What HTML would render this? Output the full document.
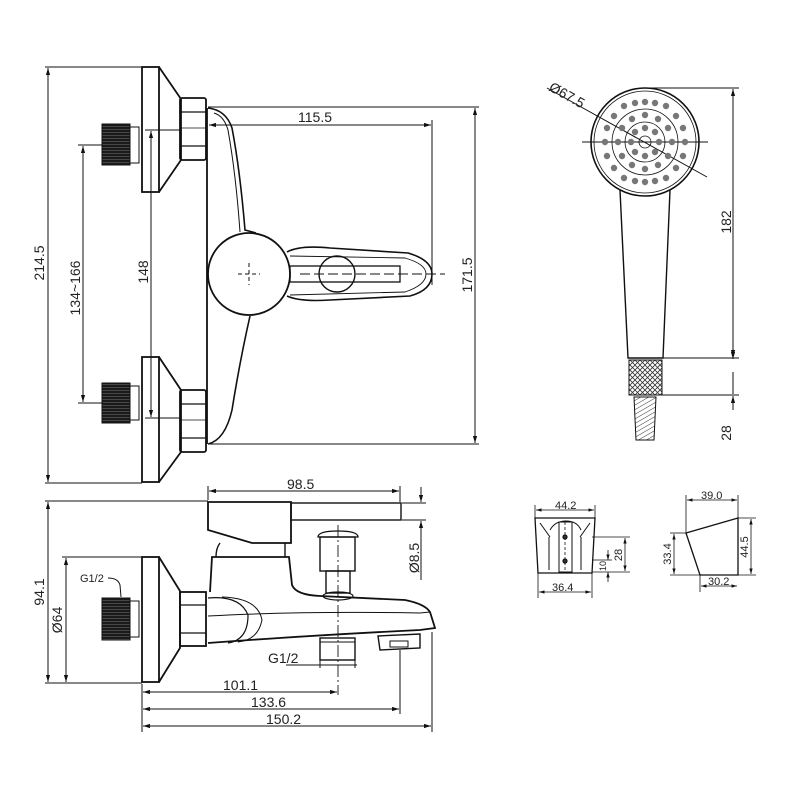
<!DOCTYPE html>
<html><head><meta charset="utf-8">
<style>
html,body{margin:0;padding:0;background:#fff;}
svg{display:block;}
text{font-family:"Liberation Sans",sans-serif;font-size:14px;fill:#222;}
.s{font-size:11px;}
</style></head>
<body>
<svg width="800" height="800" viewBox="0 0 800 800" xmlns="http://www.w3.org/2000/svg">
<defs>
<marker id="a" viewBox="0 0 10 10" refX="10" refY="5" markerWidth="7" markerHeight="7" orient="auto-start-reverse"><path d="M0,2 L10,5 L0,8 z" fill="#111"/></marker>
<pattern id="th" width="3" height="3" patternUnits="userSpaceOnUse"><rect width="3" height="3" fill="#1a1a1a"/><rect x="0" y="0" width="3" height="0.6" fill="#666"/></pattern>
<pattern id="kn" width="5" height="5" patternUnits="userSpaceOnUse"><path d="M0,0 L5,5 M5,0 L0,5" stroke="#333" stroke-width="0.8"/></pattern>
<pattern id="hs" width="4" height="4" patternUnits="userSpaceOnUse" patternTransform="rotate(-30)"><line x1="0" y1="0" x2="4" y2="0" stroke="#333" stroke-width="1"/></pattern>
</defs>
<g fill="none" stroke="#111" stroke-width="1.2">
<!-- ===== TOP VIEW ===== -->
<line x1="45" y1="67" x2="142" y2="67" stroke-width="1"/>
<line x1="45" y1="483" x2="142" y2="483" stroke-width="1"/>
<line x1="48" y1="68" x2="48" y2="482" marker-start="url(#a)" marker-end="url(#a)" stroke-width="1"/>
<rect x="142" y="67" width="17" height="125" stroke-width="1.8"/>
<path d="M159,67 L181,99 L181,160 L159,192" stroke-width="1.8"/>
<rect x="180" y="98" width="26" height="62" rx="2" stroke-width="1.8"/>
<line x1="180" y1="112" x2="206" y2="112"/><line x1="180" y1="146" x2="206" y2="146"/>
<line x1="180" y1="128" x2="206" y2="128" stroke-width="0.8"/>
<rect x="102" y="124" width="28" height="41" fill="url(#th)" stroke-width="1"/>
<rect x="130" y="127" width="9" height="36" stroke-width="1"/>
<rect x="142" y="357" width="17" height="125" stroke-width="1.8"/>
<path d="M159,357 L181,390 L181,452 L159,482" stroke-width="1.8"/>
<rect x="180" y="390" width="26" height="62" rx="2" stroke-width="1.8"/>
<line x1="180" y1="404" x2="206" y2="404"/><line x1="180" y1="438" x2="206" y2="438"/>
<line x1="180" y1="420" x2="206" y2="420" stroke-width="0.8"/>
<rect x="102" y="383" width="28" height="40" fill="url(#th)" stroke-width="1"/>
<rect x="130" y="386" width="9" height="34" stroke-width="1"/>
<line x1="207" y1="108" x2="207" y2="444" stroke-width="1.8"/>
<path d="M208,108 Q226,110 232,128 Q240,170 245,230 L256,233" stroke-width="1.6"/>
<path d="M214,113 Q224,116 228,130 Q236,175 240,232" stroke-width="1"/>
<path d="M250,316 Q240,360 232,410 Q225,440 208,444" stroke-width="1.6"/>
<circle cx="249" cy="274" r="41" stroke-width="1.8"/>
<path d="M287,252 Q300,245 330,248 L408,253 Q432,260 432,274 Q432,290 410,296 L330,300 Q300,302 287,296" stroke-width="1.6"/>
<path d="M290,256 L405,258 Q426,264 426,274 Q426,285 405,292 L290,295" stroke-width="0.9"/>
<circle cx="337" cy="274" r="18" stroke-width="1.4"/>
<rect x="290" y="266" width="110" height="16" stroke-width="1.3"/>
<path d="M238,274 L260,274 M249,263 L249,285" stroke-dasharray="4,3" stroke-width="1"/>
<line x1="300" y1="274" x2="445" y2="274" stroke-dasharray="10,4" stroke-width="1"/>
<line x1="209" y1="125" x2="431" y2="125" marker-start="url(#a)" marker-end="url(#a)" stroke-width="1"/>
<line x1="432" y1="120" x2="432" y2="285" stroke-width="1"/>
<line x1="208" y1="107" x2="479" y2="107" stroke-width="1"/>
<line x1="208" y1="444" x2="479" y2="444" stroke-width="1"/>
<line x1="475" y1="108" x2="475" y2="443" marker-start="url(#a)" marker-end="url(#a)" stroke-width="1"/>
<line x1="145" y1="130" x2="180" y2="130" stroke-width="1"/>
<line x1="145" y1="418" x2="180" y2="418" stroke-width="1"/>
<line x1="151" y1="131" x2="151" y2="417" marker-start="url(#a)" marker-end="url(#a)" stroke-width="1"/>
<line x1="78" y1="145" x2="103" y2="145" stroke-width="1"/>
<line x1="78" y1="403" x2="103" y2="403" stroke-width="1"/>
<line x1="83" y1="146" x2="83" y2="402" marker-start="url(#a)" marker-end="url(#a)" stroke-width="1"/>

<!-- ===== SHOWER HEAD ===== -->
<circle cx="645" cy="142" r="54" stroke-width="1.6"/>
<circle cx="645" cy="142" r="51" stroke-width="0.8"/>
<circle cx="645" cy="142" r="20" stroke-width="0.8"/>
<circle cx="645" cy="142" r="33" stroke-width="0.8"/>
<circle cx="645" cy="142" r="6" stroke-width="0.8"/>
<line x1="582" y1="142" x2="708" y2="142" stroke-width="1"/>
<line x1="547" y1="88" x2="707" y2="177" stroke-width="1"/>
<path d="M620,190 L628,358 L663,358 L670,190" stroke-width="1.4"/>
<rect x="629" y="360" width="33" height="35" fill="url(#kn)" stroke-width="1"/>
<path d="M634,397 L656,397 L654,440 L636,440 Z" fill="url(#hs)" stroke-width="1"/>
<line x1="650" y1="88" x2="739" y2="88" stroke-width="1"/>
<line x1="663" y1="358" x2="739" y2="358" stroke-width="1"/>
<line x1="660" y1="395" x2="739" y2="395" stroke-width="1"/>
<line x1="733" y1="89" x2="733" y2="357" marker-start="url(#a)" marker-end="url(#a)" stroke-width="1"/>
<line x1="733" y1="345" x2="733" y2="359" marker-end="url(#a)" stroke-width="1"/>
<line x1="733" y1="410" x2="733" y2="396" marker-end="url(#a)" stroke-width="1"/>
<line x1="733" y1="372" x2="733" y2="394" stroke-width="1"/>

<!-- ===== SIDE VIEW ===== -->
<line x1="45" y1="501" x2="208" y2="501" stroke-width="1"/>
<line x1="45" y1="683" x2="142" y2="683" stroke-width="1"/>
<line x1="48" y1="502" x2="48" y2="682" marker-start="url(#a)" marker-end="url(#a)" stroke-width="1"/>
<line x1="62" y1="557" x2="142" y2="557" stroke-width="1"/>
<line x1="66" y1="558" x2="66" y2="682" marker-start="url(#a)" marker-end="url(#a)" stroke-width="1"/>
<rect x="142" y="557" width="17" height="125" stroke-width="1.8"/>
<path d="M159,557 L180,591 L180,648 L159,682" stroke-width="1.8"/>
<rect x="180" y="592" width="26" height="54" stroke-width="1.8"/>
<line x1="180" y1="605" x2="206" y2="605"/><line x1="180" y1="633" x2="206" y2="633"/>
<rect x="102" y="598" width="28" height="42" fill="url(#th)" stroke-width="1"/>
<rect x="130" y="601" width="9" height="36" stroke-width="1"/>
<path d="M108,578 Q118,578 120,585 L121,597" stroke-width="1"/>
<path d="M208,502 L291,502 L291,543 L252,543 L208,530 Z" stroke-width="1.8"/>
<rect x="291" y="503" width="110" height="17" stroke-width="1.4"/>
<path d="M220,543 Q216,548 216,557 M285,543 L285,557" stroke-width="1.4"/>
<path d="M210,592 L212,557 L289,557 L292,585 Q296,595 320,596 L405,600 Q425,604 430,612 L435,628 L420,630 Q300,636 208,643" stroke-width="1.8"/>
<path d="M208,616 Q300,611 420,613 L430,612" stroke-width="1"/>
<path d="M208,598 Q240,595 248,615 Q248,640 228,643" stroke-width="1.2"/>
<path d="M222,597 Q258,598 262,620 Q258,640 238,642" stroke-width="1"/>
<path d="M318,537 Q318,531 338,531 Q358,531 358,537 Z" stroke-width="1.3"/>
<rect x="320" y="537" width="35" height="34" stroke-width="1.4"/>
<rect x="326" y="571" width="24" height="22" stroke-width="1.4"/>
<ellipse cx="338" cy="596" rx="15" ry="4" stroke-width="1.2"/>
<line x1="338" y1="525" x2="338" y2="695" stroke-dasharray="12,3,2,3" stroke-width="0.9"/>
<rect x="320" y="638" width="35" height="22" stroke-width="1.4"/>
<line x1="320" y1="642" x2="355" y2="642" stroke-width="0.9"/>
<path d="M378,636 L420,634 L420,648 L380,650 Z" stroke-width="1.4"/>
<rect x="390" y="641" width="18" height="6" stroke-width="1"/>
<line x1="208" y1="486" x2="208" y2="500" stroke-width="1"/>
<line x1="400" y1="486" x2="400" y2="502" stroke-width="1"/>
<line x1="209" y1="491" x2="399" y2="491" marker-start="url(#a)" marker-end="url(#a)" stroke-width="1"/>
<line x1="402" y1="503" x2="426" y2="503" stroke-width="1"/>
<line x1="402" y1="520" x2="426" y2="520" stroke-width="1"/>
<line x1="421" y1="487" x2="421" y2="502" marker-end="url(#a)" stroke-width="1"/>
<line x1="421" y1="580" x2="421" y2="521" marker-end="url(#a)" stroke-width="1"/>
<line x1="286" y1="665" x2="357" y2="665" stroke-width="1"/>
<line x1="320" y1="660" x2="320" y2="668" stroke-width="1"/>
<line x1="355" y1="660" x2="355" y2="668" stroke-width="1"/>
<line x1="142" y1="684" x2="142" y2="732" stroke-width="1"/>
<line x1="400" y1="650" x2="400" y2="714" stroke-width="1"/>
<line x1="432" y1="632" x2="432" y2="732" stroke-width="1"/>
<line x1="143" y1="692" x2="337" y2="692" marker-start="url(#a)" marker-end="url(#a)" stroke-width="1"/>
<line x1="143" y1="709" x2="399" y2="709" marker-start="url(#a)" marker-end="url(#a)" stroke-width="1"/>
<line x1="143" y1="726" x2="431" y2="726" marker-start="url(#a)" marker-end="url(#a)" stroke-width="1"/>

<!-- ===== BRACKET 1 ===== -->
<line x1="535" y1="505" x2="535" y2="518" stroke-width="0.8"/>
<line x1="595" y1="505" x2="595" y2="518" stroke-width="0.8"/>
<line x1="536" y1="510" x2="594" y2="510" marker-start="url(#a)" marker-end="url(#a)" stroke-width="0.8"/>
<path d="M535,518 L595,518 L592,573 L538,573 Z" stroke-width="1.3"/>
<path d="M540,523 L550,537 M590,523 L580,537 M549,537 L549,570 M581,537 L581,570" stroke-width="1"/>
<path d="M550,530 Q555,521 566,521 Q577,521 581,530" stroke-width="1"/>
<rect x="559" y="522" width="13" height="50" stroke-width="1"/>
<line x1="565" y1="522" x2="565" y2="572" stroke-dasharray="3,2" stroke-width="0.8"/>
<circle cx="565" cy="537" r="2" fill="#333"/><circle cx="565" cy="561" r="2" fill="#333"/>
<line x1="538" y1="572" x2="538" y2="598" stroke-width="0.8"/>
<line x1="592" y1="572" x2="592" y2="598" stroke-width="0.8"/>
<line x1="539" y1="592" x2="591" y2="592" marker-start="url(#a)" marker-end="url(#a)" stroke-width="0.8"/>
<line x1="592" y1="537" x2="630" y2="537" stroke-width="0.8"/>
<line x1="592" y1="572" x2="630" y2="572" stroke-width="0.8"/>
<line x1="625" y1="538" x2="625" y2="571" marker-start="url(#a)" marker-end="url(#a)" stroke-width="0.8"/>
<line x1="592" y1="560" x2="612" y2="560" stroke-width="0.8"/>
<line x1="608" y1="550" x2="608" y2="560" marker-end="url(#a)" stroke-width="0.8"/>
<line x1="608" y1="582" x2="608" y2="572" marker-end="url(#a)" stroke-width="0.8"/>

<!-- ===== BRACKET 2 ===== -->
<path d="M686,533 L738,518 L738,575 L700,575 Z" stroke-width="1.3"/>
<line x1="686" y1="495" x2="686" y2="533" stroke-width="0.8"/>
<line x1="738" y1="495" x2="738" y2="518" stroke-width="0.8"/>
<line x1="687" y1="500" x2="737" y2="500" marker-start="url(#a)" marker-end="url(#a)" stroke-width="0.8"/>
<line x1="738" y1="518" x2="756" y2="518" stroke-width="0.8"/>
<line x1="738" y1="575" x2="756" y2="575" stroke-width="0.8"/>
<line x1="751" y1="519" x2="751" y2="574" marker-start="url(#a)" marker-end="url(#a)" stroke-width="0.8"/>
<line x1="670" y1="533" x2="686" y2="533" stroke-width="0.8"/>
<line x1="670" y1="575" x2="700" y2="575" stroke-width="0.8"/>
<line x1="674" y1="534" x2="674" y2="574" marker-start="url(#a)" marker-end="url(#a)" stroke-width="0.8"/>
<line x1="700" y1="575" x2="700" y2="592" stroke-width="0.8"/>
<line x1="701" y1="586" x2="737" y2="586" marker-start="url(#a)" marker-end="url(#a)" stroke-width="0.8"/>
</g>
<g fill="#777">
<circle cx="659" cy="142" r="3.2"/><circle cx="631" cy="142" r="3.2"/><circle cx="645" cy="128" r="3.2"/><circle cx="645" cy="156" r="3.2"/>
<circle cx="655" cy="132" r="3.2"/><circle cx="635" cy="132" r="3.2"/><circle cx="655" cy="152" r="3.2"/><circle cx="635" cy="152" r="3.2"/>
<circle cx="672" cy="142" r="3.2"/><circle cx="618" cy="142" r="3.2"/><circle cx="645" cy="115" r="3.2"/><circle cx="645" cy="169" r="3.2"/>
<circle cx="668" cy="128" r="3.2"/><circle cx="622" cy="128" r="3.2"/><circle cx="668" cy="156" r="3.2"/><circle cx="622" cy="156" r="3.2"/>
<circle cx="658" cy="119" r="3.2"/><circle cx="632" cy="119" r="3.2"/><circle cx="658" cy="165" r="3.2"/><circle cx="632" cy="165" r="3.2"/>
<circle cx="685" cy="142" r="3.2"/><circle cx="605" cy="142" r="3.2"/><circle cx="645" cy="102" r="3.2"/><circle cx="645" cy="182" r="3.2"/>
<circle cx="683" cy="128" r="3.2"/><circle cx="607" cy="128" r="3.2"/><circle cx="683" cy="156" r="3.2"/><circle cx="607" cy="156" r="3.2"/>
<circle cx="676" cy="116" r="3.2"/><circle cx="614" cy="116" r="3.2"/><circle cx="676" cy="168" r="3.2"/><circle cx="614" cy="168" r="3.2"/>
<circle cx="666" cy="106" r="3.2"/><circle cx="624" cy="106" r="3.2"/><circle cx="666" cy="178" r="3.2"/><circle cx="624" cy="178" r="3.2"/>
<circle cx="655" cy="103" r="3.2"/><circle cx="635" cy="103" r="3.2"/><circle cx="655" cy="181" r="3.2"/><circle cx="635" cy="181" r="3.2"/>
</g>
<text x="298" y="122">115.5</text>
<text transform="translate(44,263) rotate(-90)" text-anchor="middle">214.5</text>
<text transform="translate(148,272) rotate(-90)" text-anchor="middle">148</text>
<text transform="translate(80,288) rotate(-90)" text-anchor="middle">134~166</text>
<text transform="translate(472,275) rotate(-90)" text-anchor="middle">171.5</text>
<text transform="translate(548,90) rotate(29)">Ø67.5</text>
<text transform="translate(731,222) rotate(-90)" text-anchor="middle">182</text>
<text transform="translate(731,433) rotate(-90)" text-anchor="middle">28</text>
<text x="287" y="489">98.5</text>
<text transform="translate(419,558) rotate(-90)" text-anchor="middle">Ø8.5</text>
<text transform="translate(44,592) rotate(-90)" text-anchor="middle">94.1</text>
<text transform="translate(62,620) rotate(-90)" text-anchor="middle">Ø64</text>
<text x="80" y="582" class="s">G1/2</text>
<text x="268" y="663">G1/2</text>
<text x="223" y="690">101.1</text>
<text x="251" y="707">133.6</text>
<text x="266" y="724">150.2</text>
<text x="555" y="509" class="s">44.2</text>
<text x="552" y="591" class="s">36.4</text>
<text transform="translate(622,555) rotate(-90)" text-anchor="middle" class="s">28</text>
<text transform="translate(606,566) rotate(-90)" text-anchor="middle" class="s" style="font-size:9px">10</text>
<text x="701" y="499" class="s">39.0</text>
<text x="708" y="585" class="s">30.2</text>
<text transform="translate(748,547) rotate(-90)" text-anchor="middle" class="s">44.5</text>
<text transform="translate(671,554) rotate(-90)" text-anchor="middle" class="s">33.4</text>
</svg>
</body></html>
